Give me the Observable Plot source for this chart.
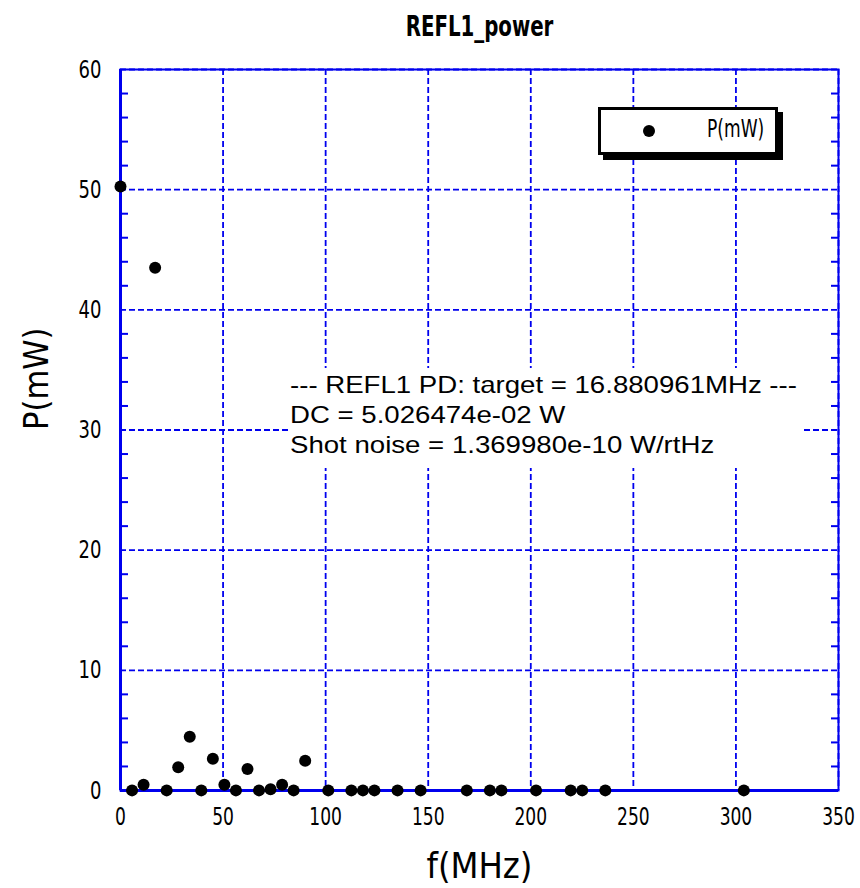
<!DOCTYPE html>
<html>
<head>
<meta charset="utf-8">
<script src="https://cdn.jsdelivr.net/npm/d3@7"></script>
<script src="https://cdn.jsdelivr.net/npm/@observablehq/plot@0.6"></script>
<style>
  html, body { margin: 0; padding: 0; background: #fff; }
  #wrap { position: relative; width: 860px; height: 888px; }
  #legend {
    position: absolute; left: 598px; top: 107px; width: 174px; height: 42px;
    border: 3px solid #000; background: #fff; box-shadow: 5px 5px 0 #000;
    font-family: "DejaVu Sans Condensed", "DejaVu Sans", sans-serif;
    font-stretch: condensed; font-size: 19px;
  }
  #legend .dot { position: absolute; left: 42px; top: 15px; width: 12px; height: 12px; border-radius: 50%; background: #000; }
  #legend .lab { position: absolute; left: 106px; top: 7px; transform: scaleY(1.3); transform-origin: 0 50%; }
  #note {
    position: absolute; left: 288px; top: 368px; width: 514px; height: 100px;
    background: #fff; box-sizing: border-box; padding: 2px 0 0 2px;
    font-family: "Liberation Sans", Arial, sans-serif; font-size: 24px; line-height: 30px;
    color: #000; white-space: pre;
  }
  #note .inner { transform: scaleX(1.15); transform-origin: 0 0; }
</style>
</head>
<body>
<div id="wrap"></div>
<script>
// ---- data ----
const freqMHz = [0, 5.63, 11.25, 16.88, 22.51, 28.13, 33.76, 39.39, 45.02, 50.64, 56.27, 61.90, 67.52, 73.15, 78.78, 84.40, 90.03, 101.29, 112.54, 118.17, 123.79, 135.05, 146.30, 168.81, 180.06, 185.69, 202.57, 219.45, 225.08, 236.33, 303.86];
const powerMW = [50.26, 0.01, 0.47, 43.5, 0.01, 1.94, 4.47, 0.01, 2.64, 0.47, 0.01, 1.78, 0.01, 0.11, 0.47, 0.01, 2.47, 0.01, 0.01, 0.01, 0.01, 0.01, 0.01, 0.01, 0.01, 0.01, 0.01, 0.01, 0.01, 0.01, 0.01];
const xTicks = [0, 50, 100, 150, 200, 250, 300, 350];
const yTicks = [0, 10, 20, 30, 40, 50, 60];
const yMinor = [2, 4, 6, 8, 12, 14, 16, 18, 22, 24, 26, 28, 32, 34, 36, 38, 42, 44, 46, 48, 52, 54, 56, 58];
const titleText = "REFL1_power";
const xLabel = "f(MHz)";
const yLabel = "P(mW)";
const seriesName = "P(mW)";
const noteLines = [
  "--- REFL1 PD: target = 16.880961MHz ---",
  "DC = 5.026474e-02 W",
  "Shot noise = 1.369980e-10 W/rtHz"
];

const data = freqMHz.map((f, i) => ({f, p: powerMW[i]}));
const blue = "#0000ee";
const condensed = "'DejaVu Sans Condensed', 'DejaVu Sans', sans-serif";

const chart = Plot.plot({
  width: 860, height: 888,
  marginLeft: 120, marginRight: 22, marginTop: 69, marginBottom: 98,
  style: {fontFamily: condensed, fontStretch: "condensed", background: "#fff"},
  x: {domain: [0, 350]},
  y: {domain: [0, 60]},
  marks: [
    Plot.gridX(xTicks, {stroke: blue, strokeOpacity: 1, strokeWidth: 1.8, strokeDasharray: "6,3"}),
    Plot.gridY(yTicks, {stroke: blue, strokeOpacity: 1, strokeWidth: 1.8, strokeDasharray: "6,3"}),
    Plot.frame({stroke: blue, strokeWidth: 2}),
    Plot.axisY(yMinor, {anchor: "left", tickSize: -8, stroke: blue, strokeWidth: 2, tickFormat: () => "", label: null}),
    Plot.axisY(yMinor, {anchor: "right", tickSize: -8, stroke: blue, strokeWidth: 2, tickFormat: () => "", label: null}),
    Plot.axisX(xTicks, {anchor: "bottom", tickSize: 0, tickPadding: 17, fontSize: 19, fill: "#000", label: null}),
    Plot.axisY(yTicks, {anchor: "left", tickSize: 0, tickPadding: 19, fontSize: 20, fill: "#000", label: null}),
    Plot.ruleX([0], {stroke: blue, strokeWidth: 3}),
    Plot.ruleY([0], {stroke: blue, strokeWidth: 3}),
    Plot.dot(data, {x: "f", y: "p", r: 6, fill: "#000", stroke: "none"}),
    Plot.text([titleText], {frameAnchor: "top", lineAnchor: "middle", dy: -43, fontSize: 22, fontWeight: "bold", fill: "#000"}),
    Plot.text([xLabel], {frameAnchor: "bottom", lineAnchor: "middle", dy: 76, fontSize: 36, fill: "#000"}),
    Plot.text([yLabel], {frameAnchor: "left", lineAnchor: "middle", dx: -83, rotate: -90, fontSize: 34, fill: "#000"})
  ]
});
const wrap = document.getElementById("wrap");
wrap.appendChild(chart);

// stretch the tick labels and title vertically to mimic the tall, narrow original font
const stretchEl = (t, k) => {
  const tr = t.getAttribute("transform") || "";
  t.setAttribute("transform", tr + ` scale(1,${k})`);
};
chart.querySelectorAll('g[aria-label="x-axis tick label"] text').forEach(t => stretchEl(t, 1.28));
chart.querySelectorAll('g[aria-label="y-axis tick label"] text').forEach(t => stretchEl(t, 1.25));
chart.querySelectorAll('g[aria-label="text"] text').forEach(t => {
  if (t.textContent === titleText) stretchEl(t, 1.3);
});

const note = document.createElement("div");
note.id = "note";
const inner = document.createElement("div");
inner.className = "inner";
inner.textContent = noteLines.join("\n");
note.appendChild(inner);
wrap.appendChild(note);

const leg = document.createElement("div");
leg.id = "legend";
leg.innerHTML = '<div class="dot"></div><div class="lab"></div>';
leg.querySelector(".lab").textContent = seriesName;
wrap.appendChild(leg);
</script>
</body>
</html>
